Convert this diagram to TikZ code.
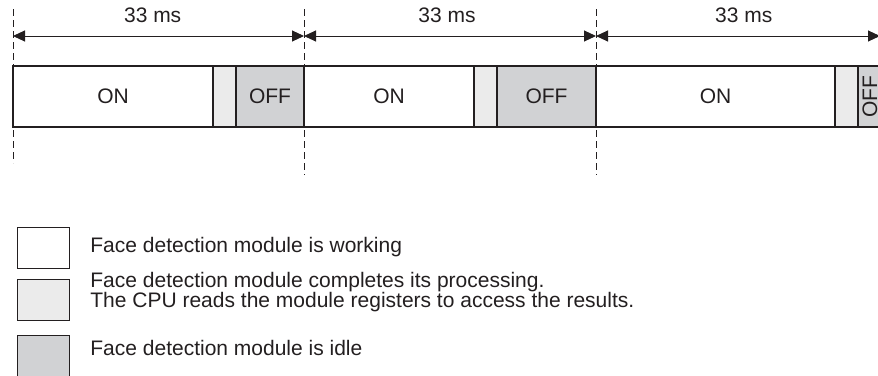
\documentclass[tikz,border=0pt]{standalone}
\usepackage{fontspec}
\setmainfont{Liberation Sans}
\usetikzlibrary{arrows.meta,positioning}
\definecolor{donegray}{HTML}{EBEBEB}
\definecolor{idlegray}{HTML}{D1D2D4}
\definecolor{ink}{HTML}{231F20}

\begin{document}
\begin{tikzpicture}[x=0.5pt, y=-0.5pt, font=\fontsize{10.5}{10.2}\selectfont, text=ink,
  seg/.style = {draw=ink, line width=0.85pt, minimum height=30.5pt, inner sep=0pt, outer sep=0pt},
  work/.style = {seg, fill=white},
  done/.style = {seg, fill=donegray},
  idle/.style = {seg, fill=idlegray},
  key/.style = {draw=ink, line width=0.5pt, minimum width=26pt, minimum height=20.5pt, inner sep=0pt, outer sep=0pt},
  keytext/.style = {align=left, inner sep=0pt},
  frameline/.style = {draw=ink, dash pattern=on 3.5pt off 2pt, line width=0.5pt},
  span/.style = {draw=ink, line width=0.5pt, {Triangle[length=6pt,width=5.5pt]}-{Triangle[length=6pt,width=5.5pt]}}]
  \useasboundingbox (0,0) rectangle (878,375);

  % frame boundaries
  \coordinate (t0) at (13,9);
  \coordinate (t1) at (304,9);
  \coordinate (t2) at (596,9);
  \coordinate (b0) at (13,163);
  \coordinate (b1) at (304,175);
  \coordinate (b2) at (596,175);
  \draw[frameline] (t0) -- (b0);
  \draw[frameline] (t1) -- (b1);
  \draw[frameline] (t2) -- (b2);

  % 33 ms spans
  \coordinate (a0) at (13,36);
  \coordinate (a1) at (304,36);
  \coordinate (a2) at (596,36);
  \coordinate (a3) at (880,36);
  \draw[span] (a0) -- node[above=6.5pt, inner sep=0pt, pos=0.48] {33 ms} (a1);
  \draw[span] (a1) -- node[above=6.5pt, inner sep=0pt, pos=0.49] {33 ms} (a2);
  \draw[span] (a2) -- node[above=6.5pt, inner sep=0pt, pos=0.52] {33 ms} (a3);

  % the bar
  \node[work, minimum width=100pt, anchor=west] (on1) at (13,96.5) {ON};
  \node[done, minimum width=11.5pt, right=0pt of on1] (rd1) {};
  \node[idle, minimum width=34pt, right=0pt of rd1] (off1) {OFF};
  \node[work, minimum width=85pt, right=0pt of off1] (on2) {ON};
  \node[done, minimum width=11.5pt, right=0pt of on2] (rd2) {};
  \node[idle, minimum width=49.5pt, right=0pt of rd2] (off2) {OFF};
  \node[work, minimum width=119.5pt, right=0pt of off2] (on3) {ON};
  \node[done, minimum width=11.5pt, right=0pt of on3] (rd3) {};
  \node[idle, minimum width=12pt, right=0pt of rd3] (off3) {};
  \node[rotate=90, inner sep=0pt] (off3txt) at (off3) {OFF};

  % legend
  \node[key, fill=white] (key1) at (43,247.5) {};
  \node[key, fill=donegray] (key2) at (43,300) {};
  \node[key, fill=idlegray] (key3) at (43,355.5) {};
  \node[keytext, right=10.5pt of key1] (txt1) {Face detection module is working};
  \node[keytext, right=10.5pt of key2, yshift=4pt] (txt2) {Face detection module completes its processing.\\The CPU reads the module registers to access the results.};
  \node[keytext, right=10.5pt of key3, yshift=4pt] (txt3) {Face detection module is idle};
\end{tikzpicture}
\end{document}
